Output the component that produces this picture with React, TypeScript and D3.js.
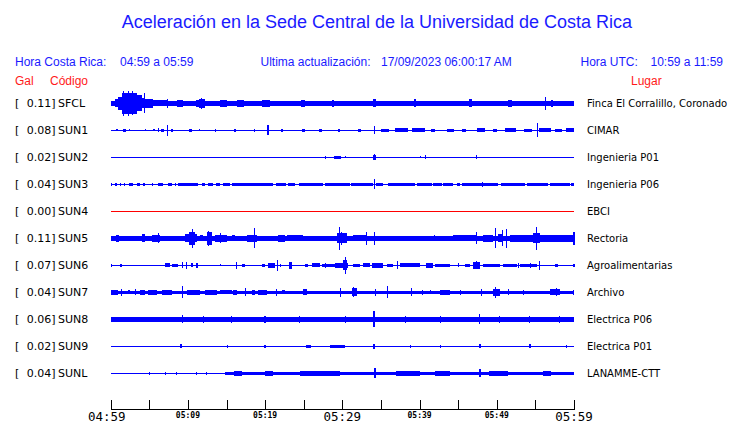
import React from "react";
import * as d3 from "d3";

const W = 740;
const H = 423;

// ---- station metadata ----
const codes = ["SFCL", "SUN1", "SUN2", "SUN3", "SUN4", "SUN5", "SUN6", "SUN7", "SUN8", "SUN9", "SUNL"];
const gals = ["0.11", "0.08", "0.02", "0.04", "0.00", "0.11", "0.07", "0.04", "0.06", "0.02", "0.04"];
const lugares = [
  "Finca El Corralillo, Coronado",
  "CIMAR",
  "Ingenieria P01",
  "Ingenieria P06",
  "EBCI",
  "Rectoria",
  "Agroalimentarias",
  "Archivo",
  "Electrica P06",
  "Electrica P01",
  "LANAMME-CTT",
];
// background (noise) half-amplitude of each trace
const baseAmp = [2.3, 0.6, 0.5, 0.6, 0.5, 2.3, 0.6, 1.7, 2.3, 0.5, 0.6];
const traceColor = ["#0000ff", "#0000ff", "#0000ff", "#0000ff", "#ff0000", "#0000ff", "#0000ff", "#0000ff", "#0000ff", "#0000ff", "#0000ff"];

// ---- envelope events: [startMinute, endMinute, halfAmplitude] (minutes after 04:59) ----
type Ev = [number, number, number];
const evSFCL: Ev[] = [
  [0, 0.56, 2.7], [0.56, 1.0, 4], [1.0, 1.47, 6.7], [1.47, 3.37, 10.5], [1.65, 1.78, 12.3], [2.3, 2.42, 12.3],
  [2.7, 2.8, 12], [3.37, 4.02, 8], [4.02, 4.45, 5], [4.35, 4.47, 10], [4.45, 5.53, 4.7], [5.53, 7.3, 2.9],
  [7.3, 7.42, 4.4], [8.6, 9.4, 3.6], [11.0, 11.4, 3.5], [11.45, 12.2, 4.7], [11.65, 11.78, 5.2], [14.2, 15.0, 3.7],
  [16.3, 17.2, 3.6], [19.6, 20.6, 3.7], [24.6, 25.2, 3.5], [28.6, 28.9, 3.6], [34.0, 34.3, 4], [39.3, 39.6, 4],
  [46.4, 46.8, 4], [51.5, 52.0, 3.7], [56.2, 56.35, 6.5], [57.0, 57.3, 3.5],
];
const evSUN1: Ev[] = [
  [0.69, 1.0, 1], [1.55, 1.99, 1.3], [2.38, 2.5, 1], [4.4, 4.5, 1], [5.44, 5.74, 1], [6.1, 6.22, 2],
  [6.52, 6.91, 1.7], [7.33, 7.43, 5.7], [7.77, 8.03, 1.7], [10.2, 10.5, 1.3], [11.45, 11.55, 1],
  [13.5, 13.7, 1.3], [16.0, 16.2, 1.3], [18.5, 18.6, 1.2], [20.3, 20.45, 5], [22.0, 22.3, 1.3],
  [24.8, 25.2, 1.5], [27.0, 27.4, 1.3], [29.5, 29.7, 1.3], [32.0, 32.4, 1.4], [34.1, 34.25, 4],
  [35.0, 36.0, 1.3], [36.8, 38.5, 2], [39.0, 40.7, 2], [41.5, 42.0, 1.5], [43.5, 44.5, 1.5],
  [45.5, 46.0, 1.3], [47.5, 48.5, 2], [49.5, 50.0, 1.5], [51.0, 52.5, 2], [53.5, 54.5, 1.5],
  [55.2, 55.35, 7], [55.5, 57.0, 2], [57.5, 58.5, 1.5], [59.0, 60.0, 2],
];
const evSUN2: Ev[] = [
  [27.8, 27.9, 1.5], [28.97, 29.79, 1.5], [30.4, 30.5, 1], [33.94, 34.33, 2.2], [34.05, 34.17, 3],
  [40.02, 40.12, 1], [40.67, 40.77, 2], [47.36, 47.46, 2],
];
const evSUN3: Ev[] = [
  [0, 0.2, 1.3], [0.56, 0.78, 1.3], [1.15, 1.25, 1.3], [1.7, 1.8, 1.3], [2.42, 2.94, 1.3], [3.37, 3.8, 1.3],
  [4.23, 4.45, 1.3], [5.31, 5.53, 1.3], [6.17, 6.82, 1.3], [7.38, 7.9, 1.3], [8.3, 8.4, 1.3], [8.77, 11.36, 1.3],
  [11.79, 12.22, 1.3], [12.65, 13.3, 1.3], [13.64, 14.16, 1.3], [14.51, 15.46, 1.3], [15.67, 21.07, 1.3],
  [21.37, 22.71, 1.3], [22.93, 23.88, 1.3], [24.4, 27.55, 1.3], [27.76, 31.0, 1.3], [31.09, 34.02, 1.3],
  [34.37, 35.32, 1.3], [35.97, 39.42, 1.3], [39.64, 41.58, 1.3], [41.8, 42.88, 1.3], [43.09, 44.39, 1.3],
  [44.82, 45.25, 1.3], [45.47, 50.22, 1.3], [50.56, 53.67, 1.3], [53.89, 56.69, 1.3], [56.91, 59.5, 1.3],
  [59.63, 60, 1.3], [34.05, 34.17, 5], [48.1, 48.2, 2.7],
];
const evSUN4: Ev[] = [];
const evSUN5: Ev[] = [
  [0, 0.56, 1.7], [0.69, 1.12, 3.3], [3.15, 3.58, 2.8], [4.02, 4.45, 4], [5.31, 6.39, 3.3], [6.12, 6.22, 5],
  [7.9, 8.55, 2.8], [9.63, 11.14, 4], [10.1, 10.9, 6.7], [10.57, 10.67, 9.3], [11.57, 12.0, 3],
  [12.44, 13.08, 6.7], [12.6, 12.7, 7.3], [13.51, 15.03, 3.3], [14.1, 14.2, 5], [15.67, 16.11, 3],
  [17.62, 18.91, 3.2], [18.52, 18.62, 10], [19.34, 21.5, 2.8], [21.72, 22.58, 3.2], [22.8, 24.96, 3],
  [27.12, 29.27, 2.8], [29.36, 30.57, 5], [29.57, 29.67, 11.7], [29.87, 29.97, 6.7], [31.43, 33.16, 3],
  [33.11, 33.21, 6.7], [34.06, 34.16, 6.7], [34.46, 38.34, 2.8], [41.88, 41.98, 3], [44.39, 47.41, 3],
  [47.36, 47.46, 6], [48.27, 49.57, 3.4], [49.73, 49.83, 10], [50.22, 50.86, 4], [50.68, 50.78, 8],
  [51.25, 51.35, 9.3], [51.73, 54.75, 3.2], [54.75, 55.61, 5], [55.13, 55.23, 11.7], [55.61, 59.93, 3.6],
  [59.93, 60.15, 6.7],
];
const evSUN6: Ev[] = [
  [0, 0.17, 1.3], [1.21, 1.47, 1.3], [2.55, 2.63, 0.8], [4.19, 4.27, 0.8], [7.04, 7.69, 2], [7.9, 8.77, 1.7],
  [9.24, 9.32, 3], [9.8, 9.88, 3.3], [10.36, 10.71, 2], [11.01, 11.27, 2.7], [14.12, 14.2, 1], [16.28, 16.36, 3.3],
  [16.97, 17.4, 1.7], [19.56, 19.99, 1.7], [20.42, 21.29, 2.3], [21.5, 21.6, 5.3], [21.93, 22.03, 1.7],
  [23.14, 23.45, 3.3], [25.17, 25.6, 1.7], [26.04, 27.12, 2], [27.33, 29.06, 1.7], [27.76, 27.86, 2.7],
  [29.06, 30.79, 2.7], [30.1, 30.6, 5], [30.3, 30.4, 8.3], [31.43, 32.3, 1.7], [32.73, 33.59, 2],
  [33.81, 35.32, 2.3], [35.75, 36.61, 1.7], [37.13, 37.23, 4], [37.48, 40.07, 2], [40.85, 41.8, 2.7],
  [42.01, 43.96, 1.7], [44.98, 45.08, 2], [45.9, 46.55, 1.7], [46.98, 47.84, 3.3], [47.27, 47.37, 4],
  [48.27, 50.43, 1.7], [50.86, 52.6, 1.7], [52.76, 52.86, 2.7], [53.0, 55.2, 1.7], [54.27, 54.37, 2.7],
  [55.48, 55.58, 4.7], [57.56, 57.99, 1.7], [59.93, 60.15, 1.7],
];
const evSUN7: Ev[] = [
  [0, 1.0, 2.3], [1.37, 1.47, 3.3], [2.29, 2.5, 2], [3.1, 3.2, 3], [3.8, 4.45, 2.3], [4.88, 5.96, 2.3],
  [6.61, 7.9, 2.3], [9.23, 9.33, 6], [9.84, 11.57, 2.3], [12.22, 13.73, 2.3], [14.16, 15.67, 2.1],
  [15.89, 16.32, 2.3], [17.44, 17.54, 4], [18.26, 18.7, 2.7], [19.13, 20.21, 2.3], [21.45, 21.55, 3.3],
  [22.15, 22.58, 2.1], [24.96, 25.39, 3], [29.74, 29.84, 4.7], [31.22, 31.87, 4], [31.38, 31.48, 5],
  [34.19, 34.29, 3.3], [35.79, 35.89, 6], [38.94, 39.04, 4], [40.36, 40.46, 2.7], [41.31, 41.41, 2.1],
  [42.66, 43.96, 2.3], [45.2, 45.3, 2.7], [48.01, 48.11, 3.3], [49.57, 50.43, 3.3], [49.73, 49.83, 5.7],
  [51.46, 51.56, 3], [53.4, 53.5, 2.7], [56.91, 58.2, 3], [57.72, 57.82, 4], [59.88, 59.98, 2.7],
];
const evSUN8: Ev[] = [
  [9.25, 9.4, 4], [11.95, 12.1, 3.2], [15.6, 15.75, 3.2], [19.9, 20.05, 3.2], [24.4, 24.55, 3.2],
  [30.3, 30.45, 3.2], [34.0, 34.25, 8], [38.1, 38.25, 3.2], [42.6, 42.75, 3.2], [47.7, 47.85, 5],
  [50.3, 50.45, 3.2], [54.2, 54.35, 3.2], [58.1, 58.25, 3.2],
];
const evSUN9: Ev[] = [
  [9.0, 9.2, 2], [15.1, 15.25, 1.5], [19.9, 20.05, 1.5], [25.3, 25.9, 1.5], [28.4, 30.4, 1.8], [34.0, 34.25, 2.5],
  [38.7, 38.85, 1.5], [42.6, 42.75, 1.5], [47.7, 47.9, 2], [54.2, 54.4, 2], [59.0, 59.15, 1.5],
];
const evSUNL: Ev[] = [
  [5.0, 5.1, 1.5], [7.0, 7.1, 1.5], [8.5, 8.6, 1.5], [11.0, 11.2, 1.5], [12.3, 12.5, 1.5], [14.8, 60, 1.8],
  [16.0, 17.0, 2.5], [20.0, 21.0, 2.5], [24.5, 29.7, 2.8], [34.1, 34.3, 5], [37.0, 40.0, 2.8], [42.0, 44.0, 2.6],
  [47.7, 47.9, 4], [49.0, 51.5, 2.8], [56.0, 57.0, 2.8],
];
const events: Ev[][] = [evSFCL, evSUN1, evSUN2, evSUN3, evSUN4, evSUN5, evSUN6, evSUN7, evSUN8, evSUN9, evSUNL];

// ---- axis ----
const tickMinutes = [0, 5, 10, 15, 20, 25, 30, 35, 40, 45, 50, 55, 60];
const bigLabelMinutes = [0, 30, 60];
const smallLabelMinutes = [10, 20, 40, 50];
const startTime = new Date(2023, 8, 17, 4, 59, 0);

const BLUE = "#1a1aff";
const RED = "#ff1a1a";

export default function App() {
  const x = d3.scaleLinear().domain([0, 60]).range([110.7, 574]);
  const row = d3.scaleLinear().domain([0, codes.length - 1]).range([103.3, 373.3]);
  const amp = d3.scaleLinear().domain([0, 12]).range([0, 12]);
  const fmt = d3.timeFormat("%H:%M");
  const label = (m: number) => fmt(d3.timeMinute.offset(startTime, m));

  const rectFor = (c: number, s: number, e: number, a: number) => {
    const x0 = Math.round(x(s));
    const x1 = Math.max(x0 + 1, Math.round(x(e)));
    const y0 = Math.round(c - amp(a));
    const y1 = Math.max(y0 + 1, Math.round(c + amp(a)));
    return { x: x0, y: y0, width: x1 - x0, height: y1 - y0 };
  };

  const sans = "'Liberation Sans', Arial, Helvetica, sans-serif";
  const dv = "'DejaVu Sans', sans-serif";
  const mono = "'DejaVu Sans Mono', monospace";

  return (
    <svg width={W} height={H} style={{ position: "absolute", left: 0, top: 0, background: "#fff" }}>
      <rect x={0} y={0} width={W} height={H} fill="#fff" />
      <text x={377} y={28} textAnchor="middle" fontFamily={sans} fontSize={18} fill={BLUE}>
        Aceleración en la Sede Central de la Universidad de Costa Rica
      </text>
      <g fontFamily={sans} fontSize={12} fill={BLUE}>
        <text x={15} y={65.5}>Hora Costa Rica:</text>
        <text x={120} y={65.5}>04:59 a 05:59</text>
        <text x={260.5} y={65.5}>Ultima actualización:</text>
        <text x={381} y={65.5}>17/09/2023 06:00:17 AM</text>
        <text x={580.5} y={65.5}>Hora UTC:</text>
        <text x={650.5} y={65.5}>10:59 a 11:59</text>
      </g>
      <g fontFamily={sans} fontSize={12} fill={RED}>
        <text x={15} y={84.5}>Gal</text>
        <text x={50} y={84.5}>Código</text>
        <text x={631} y={84.5}>Lugar</text>
      </g>

      {codes.map((code, i) => {
        const c = row(i);
        const base = rectFor(c, 0, 60, baseAmp[i]);
        return (
          <g key={code}>
            <g fontFamily={dv} fontSize={11} fill="#000">
              <text x={15} y={c + 4}>[</text>
              <text x={55.5} y={c + 4} textAnchor="end">{gals[i]}]</text>
              <text x={58} y={c + 4}>{code}</text>
            </g>
            <text x={587} y={c + 3.5} fontFamily={dv} fontSize={10} fill="#000">
              {lugares[i]}
            </text>
            <rect {...base} fill={traceColor[i]} />
            {events[i].map((ev, j) => (
              <rect key={j} {...rectFor(c, ev[0], ev[1], ev[2])} fill={traceColor[i]} />
            ))}
          </g>
        );
      })}

      <g stroke="#000" strokeWidth={1} shapeRendering="crispEdges">
        <line x1={x(0)} x2={x(60)} y1={409.5} y2={409.5} />
        {tickMinutes.map((m) => (
          <line key={m} x1={Math.round(x(m)) + 0.5} x2={Math.round(x(m)) + 0.5} y1={400} y2={410} />
        ))}
      </g>
      <g fontFamily={mono} fontSize={12.5} fill="#000" textAnchor="middle">
        {bigLabelMinutes.map((m) => (
          <text key={m} x={x(m) - (m === 0 ? 4 : 0)} y={421}>{label(m)}</text>
        ))}
      </g>
      <g fontFamily={mono} fontSize={8} fontWeight="bold" fill="#000" textAnchor="middle">
        {smallLabelMinutes.map((m) => (
          <text key={m} x={x(m)} y={418}>{label(m)}</text>
        ))}
      </g>
    </svg>
  );
}
